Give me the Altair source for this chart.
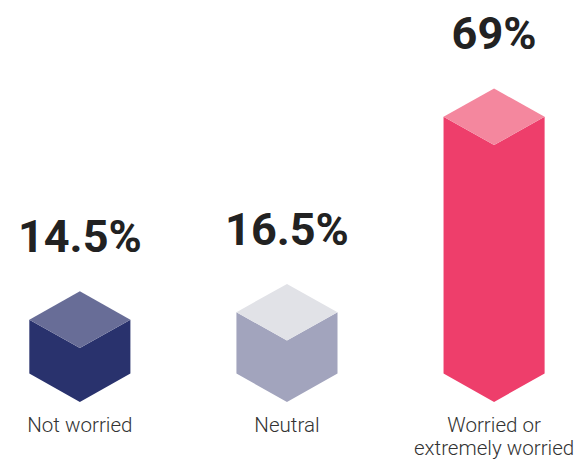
import altair as alt
import pandas as pd

categories = ["Not worried", "Neutral", "Worried or\nextremely worried"]
values = [14.5, 16.5, 69]
labels = ["14.5%", "16.5%", "69%"]
front_colors = ["#29326d", "#a2a4bd", "#ee3e6b"]
top_colors = ["#686d97", "#e1e2e7", "#f4879e"]

HW = 0.244   # half width of a cube, in category units
D = 7.6      # isometric depth, in percent units

rows = []
for i, (v, fc, tc) in enumerate(zip(values, front_colors, top_colors)):
    xl, xc, xr = i - HW, i, i + HW
    # front face (from left/right edges down to the bottom apex)
    rows += [
        dict(shape=f"f{i}", x=xl, lo=0, hi=v, c=fc),
        dict(shape=f"f{i}", x=xc, lo=-D, hi=v - D, c=fc),
        dict(shape=f"f{i}", x=xr, lo=0, hi=v, c=fc),
    ]
    # top rhombus
    rows += [
        dict(shape=f"t{i}", x=xl, lo=v, hi=v, c=tc),
        dict(shape=f"t{i}", x=xc, lo=v - D, hi=v + D, c=tc),
        dict(shape=f"t{i}", x=xr, lo=v, hi=v, c=tc),
    ]
poly = pd.DataFrame(rows)

lab = pd.DataFrame({
    "i": list(range(len(values))),
    "top": [v + D for v in values],
    "bot": [-D] * len(values),
    "label": labels,
    "cat": categories,
})

xs = alt.Scale(domain=[-0.347, 2.334], nice=False, zero=False)
ys = alt.Scale(domain=[-19.34, 96.45], nice=False, zero=False)

faces = alt.Chart(poly).mark_area(interpolate="linear", opacity=1).encode(
    x=alt.X("x:Q", scale=xs, axis=None),
    y=alt.Y("hi:Q", scale=ys, axis=None, stack=None),
    y2=alt.Y2("lo:Q"),
    fill=alt.Fill("c:N", scale=None),
    detail="shape:N",
)

value_text = alt.Chart(lab).mark_text(
    font="Roboto", fontWeight="bold", fontSize=46, color="#222222",
    baseline="alphabetic", align="center", dy=-40,
).encode(
    x=alt.X("i:Q", scale=xs, axis=None),
    y=alt.Y("top:Q", scale=ys, axis=None),
    text="label:N",
)

cat_text = alt.Chart(lab).mark_text(
    font="Roboto", fontWeight=300, fontSize=21, color="#333333",
    baseline="alphabetic", align="center", dy=31, lineBreak="\n", lineHeight=23,
).encode(
    x=alt.X("i:Q", scale=xs, axis=None),
    y=alt.Y("bot:Q", scale=ys, axis=None),
    text="cat:N",
)

chart = alt.layer(faces, value_text, cat_text).properties(
    width=567, height=440, padding=0
).configure_view(stroke=None)

chart.save("out.html", embed_options={"renderer": "svg", "actions": False})
